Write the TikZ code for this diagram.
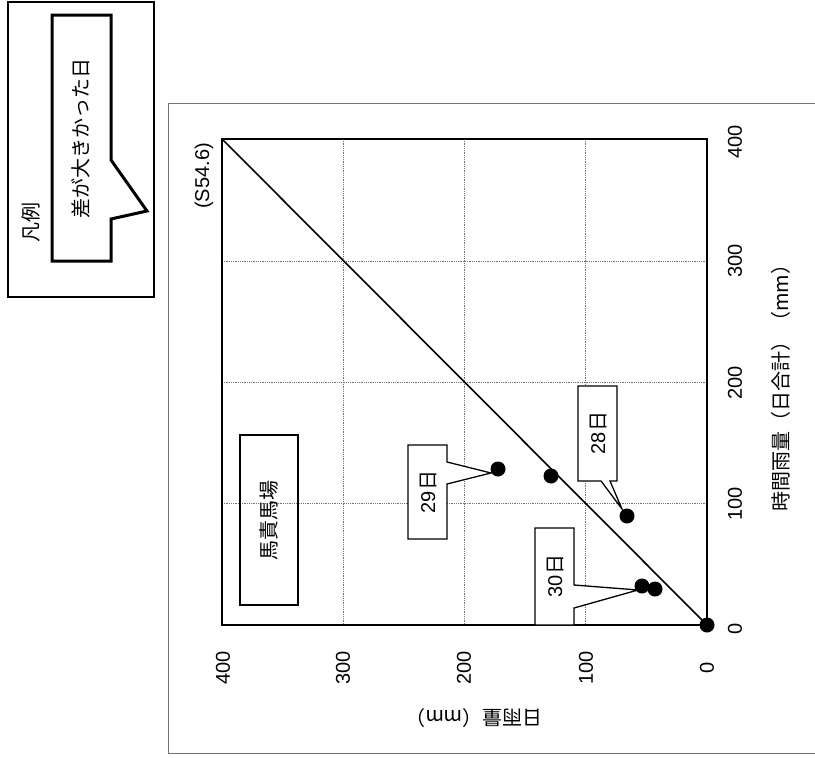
\documentclass[tikz,border=0pt]{standalone}
\usepackage{fontspec}
\setmainfont{Liberation Sans}
\newfontfamily\jp{Noto Sans CJK JP}
\begin{document}
\begin{tikzpicture}[x=1pt,y=-1pt,
  txt/.style={font=\fontsize{20}{22}\selectfont, inner sep=0pt, rotate=90},
  jtxt/.style={font=\jp\fontsize{20}{22}\selectfont, inner sep=0pt, rotate=90},
  datadot/.style={circle, fill=black, minimum size=15pt, inner sep=0pt},
  gridline/.style={black!55, densely dotted, line width=0.8pt},
  calloutbox/.style={draw=black, fill=white, line width=1.3pt, line join=miter},
  frameline/.style={black!55, line width=1pt}]
\useasboundingbox (0,0) rectangle (815,758);
% outer chart frame
\draw[frameline] (815,103) -- (168,103) -- (168,753) -- (815,753);
% legend
\draw[line width=1.6pt] (8,2) rectangle (154,297);
\node[jtxt] (hanrei) at (31,222) {凡例};
\draw[line width=3pt, line join=miter] (52,15) -- (111,15) -- (111,160) -- (147,211) -- (111,219) -- (111,261) -- (52,261) -- cycle;
\node[jtxt] (legtext) at (81,138) {差が大きかった日};
% grid
\foreach \g in {585.75,464.5,343.25} \draw[gridline] (\g,139) -- (\g,625);
\foreach \g in {503.75,382.5,261.25} \draw[gridline] (222,\g) -- (707,\g);
% plot area
\coordinate (o) at (707,625);
\coordinate (tl) at (222,139);
\draw[line width=1.6pt] (o) -- (tl);
\draw[line width=2pt] (222,139) rectangle (707,625);
\node[txt] (sdate) at (204,176) {(S54.6)};
% right axis labels
\node[txt] (r0) at (735,629) {0};
\node[txt] (r100) at (735,504) {100};
\node[txt] (r200) at (735,383) {200};
\node[txt] (r300) at (735,261) {300};
\node[txt] (r400) at (735,142) {400};
\node[jtxt] (rtitle) at (781,383) {時間雨量（日合計）（mm）};
% bottom axis labels
\node[txt] (b0) at (707,668) {0};
\node[txt] (b100) at (586,668) {100};
\node[txt] (b200) at (464,668) {200};
\node[txt] (b300) at (343,668) {300};
\node[txt] (b400) at (223,668) {400};
\node[jtxt, rotate=90] (btitle) at (474,718) {日雨量（mm）};
% station box
\draw[line width=1.3pt] (240,435) rectangle (298,605);
\node[jtxt] (station) at (269,520) {馬責馬場};
% data points
\node[datadot] (p0) at (o) {};
\node[datadot] (p29) at (498,469) {};
\node[datadot] (pa) at (551,476) {};
\node[datadot] (p28) at (627,516) {};
\node[datadot] (p30a) at (642,586) {};
\node[datadot] (p30b) at (655,589) {};
% callouts
\draw[calloutbox] (408,445) -- (447,445) -- (447,462) -- (491,473) -- (447,484) -- (447,539) -- (408,539) -- cycle;
\node[txt] (c29) at (428,492) {29\jp 日};
\draw[calloutbox] (578,386) -- (617,386) -- (617,481) -- (610,481) -- (622,509) -- (601,481) -- (578,481) -- cycle;
\node[txt] (c28) at (598,433) {28\jp 日};
\draw[calloutbox] (535,528) -- (574,528) -- (574,585) -- (638,590) -- (574,608) -- (574,625) -- (535,625) -- cycle;
\node[txt] (c30) at (555,576) {30\jp 日};
\end{tikzpicture}
\end{document}
